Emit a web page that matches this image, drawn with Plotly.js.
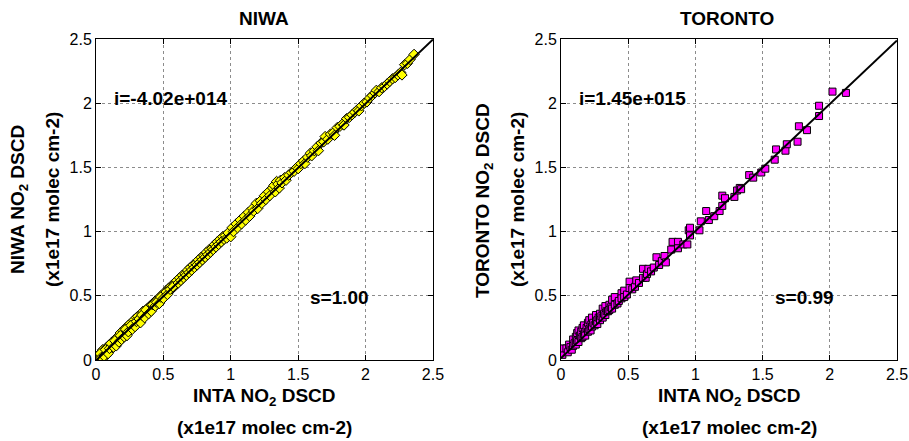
<!DOCTYPE html>
<html>
<head>
<meta charset="utf-8">
<script src="https://cdn.plot.ly/plotly-3.0.1.min.js"></script>
<style>
	html, body { margin: 0; padding: 0; background: #fff; }
	#chart { width: 909px; height: 441px; }
</style>
</head>
<body>
<div id="chart"></div>
<script>
'use strict';

// NIWA vs INTA NO2 DSCD (x1e17 molec cm-2)
var niwaX = [
	0.02, 0.03, 0.04, 0.05, 0.05, 0.06, 0.07, 0.08, 0.08, 0.09, 0.10, 0.10, 0.11, 0.12, 0.12, 0.13, 0.14, 0.14, 0.15, 0.16,
	0.16, 0.17, 0.18, 0.18, 0.19, 0.20, 0.20, 0.21, 0.22, 0.22, 0.23, 0.24, 0.25, 0.25, 0.26, 0.27, 0.28, 0.28, 0.29, 0.30,
	0.31, 0.31, 0.32, 0.33, 0.34, 0.35, 0.35, 0.36, 0.37, 0.38, 0.39, 0.40, 0.40, 0.41, 0.42, 0.43, 0.44, 0.45, 0.46, 0.47,
	0.48, 0.49, 0.50, 0.51, 0.52, 0.53, 0.54, 0.55, 0.56, 0.57, 0.58, 0.59, 0.60,
	0.03, 0.04, 0.06, 0.07, 0.09, 0.10, 0.11, 0.13, 0.14, 0.15, 0.17, 0.18, 0.19, 0.21, 0.22, 0.23, 0.24, 0.26, 0.27, 0.29,
	0.30, 0.32, 0.33, 0.34, 0.36, 0.37, 0.39, 0.41, 0.42, 0.44, 0.45, 0.47, 0.48, 0.50, 0.52, 0.53, 0.55, 0.57,
	0.61, 0.62, 0.63, 0.64, 0.65, 0.66, 0.67, 0.68, 0.69, 0.70, 0.71, 0.72, 0.73, 0.74, 0.75, 0.76, 0.77, 0.78, 0.79, 0.80,
	0.81, 0.82, 0.83, 0.84, 0.85, 0.86, 0.87, 0.88, 0.89, 0.90, 0.91, 0.92, 0.93, 0.94, 0.95, 0.96, 0.97, 0.98, 1.00, 1.01,
	1.02, 1.04, 1.05, 1.07, 1.08, 1.10, 1.11, 1.13, 1.14, 1.16, 1.17, 1.19, 1.20, 1.22, 1.23, 1.25, 1.26, 1.28, 1.29, 1.31,
	1.32, 1.33, 1.34, 1.35, 1.36, 1.37, 1.38, 1.40, 1.41, 1.43, 1.45, 1.47, 1.49, 1.50,
	1.52, 1.54, 1.55, 1.57, 1.59, 1.60, 1.62, 1.64, 1.65, 1.67, 1.69, 1.70, 1.72, 1.74, 1.76, 1.77, 1.79, 1.81, 1.83, 1.84,
	1.86, 1.88, 1.90, 1.92, 1.94, 1.95, 1.97, 1.99, 2.01, 2.03, 2.05, 2.07, 2.08, 2.10, 2.12, 2.14, 2.16, 2.18, 2.20, 2.22,
	2.24, 2.26, 2.27, 2.29, 2.31, 2.33, 2.36
];
var niwaY = [
	0.04, 0.01, 0.06, 0.02, 0.08, 0.04, 0.03, 0.10, 0.05, 0.06, 0.12, 0.07, 0.09, 0.14, 0.10, 0.11, 0.16, 0.12, 0.13, 0.18,
	0.14, 0.16, 0.21, 0.15, 0.17, 0.23, 0.18, 0.19, 0.25, 0.20, 0.21, 0.27, 0.23, 0.28, 0.24, 0.25, 0.31, 0.26, 0.27, 0.33,
	0.29, 0.34, 0.30, 0.31, 0.36, 0.33, 0.38, 0.34, 0.35, 0.40, 0.37, 0.42, 0.38, 0.40, 0.44, 0.41, 0.46, 0.43, 0.47, 0.45,
	0.50, 0.47, 0.51, 0.50, 0.54, 0.52, 0.56, 0.54, 0.58, 0.56, 0.59, 0.58, 0.62,
	0.05, 0.02, 0.03, 0.08, 0.05, 0.09, 0.13, 0.10, 0.15, 0.11, 0.14, 0.19, 0.16, 0.18, 0.24, 0.19, 0.22, 0.27, 0.24, 0.26,
	0.30, 0.32, 0.29, 0.35, 0.33, 0.39, 0.36, 0.38, 0.43, 0.42, 0.45, 0.44, 0.49, 0.48, 0.53, 0.51, 0.55, 0.57,
	0.60, 0.64, 0.62, 0.66, 0.64, 0.67, 0.66, 0.70, 0.68, 0.72, 0.70, 0.74, 0.72, 0.75, 0.74, 0.78, 0.76, 0.80, 0.78, 0.81,
	0.80, 0.84, 0.82, 0.86, 0.84, 0.87, 0.86, 0.90, 0.88, 0.92, 0.90, 0.94, 0.92, 0.96, 0.94, 0.97, 0.95, 0.99, 0.96, 1.03,
	1.00, 1.06, 1.03, 1.09, 1.06, 1.12, 1.09, 1.15, 1.12, 1.18, 1.16, 1.22, 1.18, 1.24, 1.22, 1.28, 1.25, 1.31, 1.28, 1.34,
	1.36, 1.31, 1.39, 1.37, 1.34, 1.40, 1.38, 1.42, 1.40, 1.44, 1.46, 1.47, 1.50, 1.49,
	1.53, 1.55, 1.53, 1.58, 1.61, 1.59, 1.63, 1.66, 1.63, 1.69, 1.70, 1.74, 1.72, 1.76, 1.77, 1.75, 1.81, 1.82, 1.84, 1.83,
	1.88, 1.89, 1.91, 1.93, 1.95, 1.94, 1.98, 2.00, 2.01, 2.04, 2.06, 2.08, 2.10, 2.09, 2.12, 2.13, 2.15, 2.17, 2.19, 2.20,
	2.22, 2.24, 2.22, 2.30, 2.31, 2.34, 2.38
];

// TORONTO vs INTA NO2 DSCD (x1e17 molec cm-2)
var torX = [
	0.01, 0.02, 0.04, 0.05, 0.06, 0.07, 0.08, 0.09, 0.09, 0.10, 0.11, 0.11, 0.12, 0.12, 0.13, 0.13, 0.14, 0.15, 0.15, 0.16,
	0.16, 0.17, 0.17, 0.18, 0.18, 0.19, 0.20, 0.20, 0.21, 0.21, 0.22, 0.22, 0.23, 0.23, 0.24, 0.25, 0.26, 0.26, 0.27, 0.27,
	0.28, 0.29, 0.29, 0.30, 0.31, 0.31, 0.32, 0.33, 0.33, 0.34, 0.35, 0.36, 0.36, 0.37, 0.38, 0.38, 0.40, 0.40, 0.42, 0.43,
	0.45, 0.45, 0.47, 0.47, 0.49, 0.51, 0.51, 0.53, 0.55, 0.56, 0.58, 0.61, 0.61, 0.63, 0.64, 0.65, 0.67, 0.69, 0.71, 0.73,
	0.75, 0.77, 0.78, 0.82, 0.83, 0.87, 0.87, 0.91, 0.94, 0.95, 0.96, 0.96, 1.03, 1.04, 1.08, 1.10, 1.14, 1.18, 1.20, 1.20,
	1.22, 1.29, 1.31, 1.33, 1.34, 1.40, 1.43, 1.49, 1.52, 1.59, 1.60, 1.67, 1.68, 1.76, 1.77, 1.83, 1.92, 1.92, 2.02, 2.12
];
var torY = [
	0.04, 0.09, 0.09, 0.06, 0.12, 0.10, 0.08, 0.16, 0.11, 0.13, 0.18, 0.12, 0.21, 0.15, 0.23, 0.14, 0.19, 0.17, 0.22, 0.25,
	0.18, 0.27, 0.20, 0.22, 0.19, 0.25, 0.29, 0.22, 0.31, 0.24, 0.27, 0.23, 0.33, 0.26, 0.29, 0.27, 0.35, 0.30, 0.31, 0.28,
	0.33, 0.36, 0.31, 0.34, 0.40, 0.33, 0.36, 0.42, 0.35, 0.38, 0.38, 0.43, 0.39, 0.41, 0.47, 0.40, 0.49, 0.43, 0.44, 0.46,
	0.52, 0.48, 0.54, 0.49, 0.51, 0.61, 0.56, 0.55, 0.57, 0.62, 0.60, 0.71, 0.64, 0.64, 0.67, 0.71, 0.69, 0.72, 0.80, 0.74,
	0.77, 0.81, 0.76, 0.86, 0.92, 0.92, 0.87, 0.90, 0.90, 1.01, 0.97, 1.03, 1.01, 1.08, 1.16, 1.09, 1.12, 1.16, 1.20, 1.28,
	1.26, 1.27, 1.32, 1.34, 1.33, 1.44, 1.42, 1.46, 1.49, 1.56, 1.64, 1.63, 1.68, 1.70, 1.82, 1.79, 1.90, 1.98, 2.09, 2.08
];

// least squares fit lines (end points over the axis range)
var fitX = [0, 2.5];
var niwaFitY = [-0.004, 2.496];
var torFitY = [0.0145, 2.489];

var tickVals = [0, 0.5, 1, 1.5, 2, 2.5];
var tickText = ['0', '0.5', '1', '1.5', '2', '2.5'];

const createScatterPlots = function () {
	var baseFont = 'Liberation Sans, Arial, sans-serif';

	// axis style shared by all four axes
	var axisStyle = function (domain, anchor) {
		return {
			domain: domain,
			anchor: anchor,
			range: [0, 2.5],
			tickvals: tickVals,
			ticktext: tickText,
			ticks: 'inside',
			ticklen: 5,
			tickcolor: '#000',
			showline: true,
			linecolor: '#000',
			linewidth: 1,
			mirror: 'allticks',
			showgrid: true,
			gridcolor: '#8c8c8c',
			griddash: 'dot',
			gridwidth: 1,
			zeroline: false,
			tickfont: { family: baseFont, size: 16, color: '#000' },
			fixedrange: true,
		};
	};

	var layout = {
		width: 909,
		height: 441,
		margin: { l: 0, r: 0, t: 0, b: 0 },
		showlegend: false,
		paper_bgcolor: '#fff',
		plot_bgcolor: '#fff',
		xaxis: axisStyle([0.1056, 0.4763], 'y'),
		yaxis: axisStyle([0.1837, 0.9116], 'x'),
		xaxis2: axisStyle([0.6172, 0.9868], 'y2'),
		yaxis2: axisStyle([0.1837, 0.9116], 'x2'),
		annotations: [],
	};

	var bold = { family: baseFont, size: 19, color: '#000', weight: 'bold' };
	var titleFont = { family: baseFont, size: 19, color: '#000', weight: 'bold' };

	var addText = function (text, x, y, xref, yref, font, opts) {
		var a = {
			text: text, x: x, y: y, xref: xref, yref: yref,
			showarrow: false, font: font,
			xanchor: 'center', yanchor: 'middle',
		};
		Object.assign(a, opts || {});
		layout.annotations.push(a);
	};

	// panel titles
	addText('NIWA', 264 / 909, 1 - 19 / 441, 'paper', 'paper', titleFont);
	addText('TORONTO', 727 / 909, 1 - 19 / 441, 'paper', 'paper', titleFont);

	// x titles (two lines each)
	addText('INTA NO<sub>2</sub> DSCD', 264 / 909, 1 - 397 / 441, 'paper', 'paper', bold);
	addText('(x1e17 molec cm-2)', 264 / 909, 1 - 427 / 441, 'paper', 'paper', bold);
	addText('INTA NO<sub>2</sub> DSCD', 729 / 909, 1 - 397 / 441, 'paper', 'paper', bold);
	addText('(x1e17 molec cm-2)', 729 / 909, 1 - 427 / 441, 'paper', 'paper', bold);

	// y titles, rotated
	addText('NIWA NO<sub>2</sub> DSCD', 19 / 909, 1 - 200 / 441, 'paper', 'paper', bold, { textangle: -90 });
	addText('(x1e17 molec cm-2)', 52 / 909, 1 - 200 / 441, 'paper', 'paper', bold, { textangle: -90 });
	addText('TORONTO NO<sub>2</sub> DSCD', 484 / 909, 1 - 200 / 441, 'paper', 'paper', bold, { textangle: -90 });
	addText('(x1e17 molec cm-2)', 517 / 909, 1 - 200 / 441, 'paper', 'paper', bold, { textangle: -90 });

	// intercept / slope labels
	addText('i=-4.02e+014', 0.12, 2.04, 'x', 'y', bold, { xanchor: 'left' });
	addText('s=1.00', 1.57, 0.49, 'x', 'y', bold, { xanchor: 'left' });
	addText('i=1.45e+015', 0.12, 2.04, 'x2', 'y2', bold, { xanchor: 'left' });
	addText('s=0.99', 1.58, 0.49, 'x2', 'y2', bold, { xanchor: 'left' });

	var traces = [
		{
			x: niwaX, y: niwaY, xaxis: 'x', yaxis: 'y',
			type: 'scatter', mode: 'markers', hoverinfo: 'none', cliponaxis: true,
			marker: { symbol: 'diamond', size: 8, color: '#ffff00', line: { color: '#000', width: 1 } },
		},
		{
			x: fitX, y: niwaFitY, xaxis: 'x', yaxis: 'y',
			type: 'scatter', mode: 'lines', hoverinfo: 'none',
			line: { color: '#000', width: 2 },
		},
		{
			x: torX, y: torY, xaxis: 'x2', yaxis: 'y2',
			type: 'scatter', mode: 'markers', hoverinfo: 'none', cliponaxis: true,
			marker: { symbol: 'square', size: 7, color: '#ff00ff', line: { color: '#000', width: 1 } },
		},
		{
			x: fitX, y: torFitY, xaxis: 'x2', yaxis: 'y2',
			type: 'scatter', mode: 'lines', hoverinfo: 'none',
			line: { color: '#000', width: 2 },
		},
	];

	var config = { staticPlot: true, displayModeBar: false };
	// create the chart
	Plotly.newPlot('chart', traces, layout, config);
};

document.addEventListener('DOMContentLoaded', createScatterPlots);
</script>
</body>
</html>
